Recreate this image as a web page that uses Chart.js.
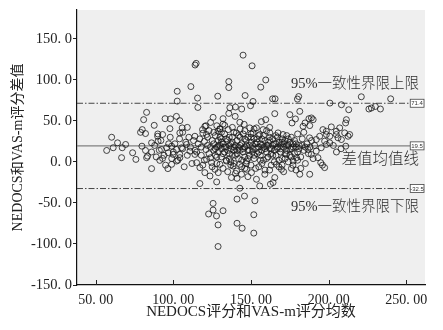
<!DOCTYPE html>
<html><head><meta charset="utf-8">
<script src="https://cdn.jsdelivr.net/npm/chart.js@4"></script>
<style>html,body{margin:0;padding:0;background:#fff}</style>
</head><body>
<canvas id="c" width="443" height="330"></canvas>
<script>
// ---- data ----
const xTickValues = [50, 100, 150, 200, 250];
const yTickValues = [-150, -100, -50, 0, 50, 100, 150];
const meanDiff = 19.5;
const upperLoA = 71.4;
const lowerLoA = -32.5;
const refLabels = ['71.4', '19.5', '-32.5'];
const refTexts = ['95%一致性界限上限', '差值均值线', '95%一致性界限下限'];
const xAxisTitle = 'NEDOCS评分和VAS-m评分均数';
const yAxisTitle = 'NEDOCS和VAS-m评分差值';
// [mean of NEDOCS & VAS-m, difference]
const scatterPairs = [
[144.9,130],[150.7,117],[114.7,120],[114,118],[135.7,97.8],[135.7,90.5],[111.3,91.7],[102.5,86],[102.5,74],[115.6,77.7],[115.8,66.3],[128.6,80],[146.2,80.8],[140,66.8],[144,64.4],[149.7,68.4],[151.3,73.6],[136.4,66],
[82.8,60.3],[80.9,51.4],[87.7,44.5],[94.7,52.6],[98.2,52.3],[102,55.4],[104.2,50.2],[125.6,54.2],[132,52.6],[135.7,59],[133.1,44.5],[139.8,55.4],[142.8,48.2],[145.6,45.7],[149.2,41.4],[80,39.3],[78.9,36],[82.1,34.5],[97.8,40.5],[105.7,41.4],[104.2,35.3],[120.3,43.3],[118.8,39.3],[89.9,31.2],[93.1,33.3],[129.9,40.2],[128.8,37.3],[131,36],[135.3,39.3],[140.6,35.3],[121.4,33.3],[113.9,31.2],
[159.5,99.8],[156.3,91],[163.9,76.8],[165.5,76.8],[180.7,79.6],[179.9,76.5],[200.8,71.6],[208.2,69.6],[212.9,63.5],[221,79.3],[239.9,76.8],[225.9,64.4],[227.5,65.6],[230,67.5],[233.3,64.4],[181.4,61.5],[165.3,58.7],[175,57.5],[178.6,52.3],[176.4,47.4],[187.3,52.6],[188.9,53.5],[190,51.4],[184.8,47.4],[183.5,43.3],[187.8,44.2],[211.4,51.4],[210.9,47.4],[159.5,51.4],[156.7,49],[207.1,41.4],[201.7,42.6],[196.3,39.3],[198.5,37.3],[204.9,37.3],[210.3,35.3],[213.5,33.3],[153.5,41.4],[157.8,39.3],[151.3,35.3],[155.6,33.3],[162.1,35.3],[167.4,35.3],[170.6,33.3],
[57.1,13.9],[61.3,17.2],[64.1,23.2],[67.1,17.2],[69.3,21.2],[66.7,5.1],[60.3,30],[73.8,11.1],[75.9,3],[79.8,19.1],[82.1,13.9],[82.8,5.1],[83.4,7],[86,-8.2],[86,23.2],[90.2,25.2],[91.3,1.8],[93.1,4.2],[96.5,-8.2],[98.9,-3],[102.1,1],[104.2,5.1],[104.2,9.1],[99.9,9.1],[96.7,11.1],[92.4,15.1],[95.7,17.2],[98.9,19.1],[102.1,15.1],[105.3,17.2],[108.5,21.2],[110.7,13.1],[113.9,9.1],[115,-1],[117.1,-26.4],[120.3,-13.1],[123.6,-17.2],[126.8,-9.1],[128.9,-13.1],[127.9,-24.4],
[125.6,-50.6],[125.6,-58.7],[122.7,-63.5],[127.8,-65.9],[132,-59.5],[128.8,-76.8],[128.8,-103.1],[141,-45.4],[145.8,-41.7],[141,-74.8],[144.3,-80.8],[151.8,-64.4],[151.8,-86.8],[142.8,-32.1],[152.5,-47.4],
[137.4,-19.1],[140.7,-11.1],[143.9,-15.1],[147.1,-9.1],[150.3,-13.1],[117.1,-7],[121.4,3],[124.6,-1],[130,-3],[134.2,1],[138.5,-5.1],[142.8,-3],[147.1,1],
[211,19.1],[197.4,-7],[194.9,-1],[193.1,5.1],[188.8,9.1],[186.7,15.1],[192,13.1],[195.2,17.2],[198.5,21.2],[200.7,23.2],[197.4,25.2],[192,27.2],[187.7,29.3],[194.2,31.2],[200.7,31.2],[206,29.3],[208.2,27.2],[212.5,31.2],[198.5,33.3],[204.9,33.3],
[181.4,-15.1],[187.8,-15.1],[177.1,1],[179.3,5.1],[172.8,9.1],[166.4,-3],[169.6,-9.1],[165.3,-19.1],[162.5,-27.2],[164.2,-25.2],[158.9,-15.1],[153.5,-21.2],[155.6,-29.3],
[115,12],[116,22],[117,28],[118,8],[118,18],[119,35],[120,25],[120,2],[121,15],[119,-4],
[122,20],[122,30],[123,10],[123,38],[124,5],[124,18],[125,26],[125,-6],[121,44],[124,48],
[126,14],[126,22],[127,32],[127,8],[128,18],[128,-2],[129,26],[129,12],[130,40],[130,20],[126,36],[128,44],
[131,6],[131,16],[131,28],[132,22],[132,-8],[133,12],[133,34],[134,18],[134,2],[135,26],[135,-12],[132,46],
[136,10],[136,20],[136,30],[137,16],[137,-4],[138,24],[138,8],[139,36],[139,14],[140,20],[140,-14],[138,42],[137,0],
[141,10],[141,26],[142,18],[142,4],[143,30],[143,14],[144,22],[144,-6],[145,12],[145,34],[141,-20],[143,40],
[146,18],[146,6],[147,26],[147,-2],[148,14],[148,30],[149,20],[149,8],[150,24],[150,-4],[146,38],[148,-18],[150,34],
[151,12],[151,20],[152,28],[152,4],[153,16],[153,-8],[154,24],[154,10],[155,32],[155,18],[152,40],
[156,8],[156,22],[157,14],[157,28],[158,2],[158,18],[159,26],[159,-10],[160,12],[160,20],[157,-2],[160,38],
[161,6],[161,24],[162,16],[162,30],[163,10],[163,-4],[164,20],[164,28],[165,14],[165,0],[162,42],
[166,22],[166,8],[167,16],[167,30],[168,24],[168,-6],[169,12],[169,20],[170,28],[170,4],
[171,18],[171,-12],[172,26],[172,10],[173,14],[173,32],[174,20],[174,0],[175,24],[175,8],
[176,16],[176,30],[177,-4],[177,22],[178,10],[178,26],[179,18],[180,12],[180,34],[179,-10],
[181,20],[182,6],[183,28],[184,14],[185,-2],[186,22],[187,10],[188,18],[189,26],[190,4],[184,36],[182,-8],
[191,20],[196,-4],[203,20],[205,12],[208,16],
[100,12],[101,22],[103,2],[104,28],[106,16],[107,-6],[108,24],[109,8],[110,30],[111,18],[112,-2],[113,26],[114,14],[106,36],[109,42],
[86,12],[88,20],[89,6],[91,14],[92,26],[94,8],[95,-4],[97,22],[98,30],[99,4],[90,34],
[127,16],[129,20],[131,24],[133,18],[135,14],[137,22],[139,18],[141,14],[143,20],[145,16],[147,20],[149,14],[151,16],[153,22],[155,12],[157,20],[159,16],[161,20],[163,16],[165,22],[167,18],[169,16],[171,22],[173,20],[175,16],[177,18],[179,22],[181,16],[183,20],[185,18],
[128,6],[132,10],[136,4],[140,8],[144,2],[148,4],[152,8],[156,2],[160,4],[164,8],[168,2],[172,4],[176,6],[180,2],
[130,30],[134,28],[138,30],[142,32],[146,28],[150,30],[154,28],[158,32],[162,26],[166,32],[170,24],[174,28],
[139,-2],[146,-8],[155,-6],[162,-10],[170,-4],[176,-8]
];
// ---- chart ----
const X_MIN = 38, X_MAX = 262, Y_MIN = -150, Y_MAX = 185, LINE_END = 252.5;
const serif = "'Liberation Serif','DejaVu Serif','Noto Sans CJK SC',serif";
const fmt = (v, d) => v.toFixed(d).replace('.', '. ');
const hline = (y, color, dash, w) => ({
  type: 'line', data: [{x: X_MIN, y}, {x: LINE_END, y}],
  borderColor: color, borderWidth: w, borderDash: dash, pointRadius: 0, fill: false, order: 2
});

const plugin = {
  id: 'extras',
  beforeDraw(chart) {
    const {ctx, chartArea: a} = chart;
    ctx.save(); ctx.fillStyle = '#efefef';
    ctx.fillRect(a.left, a.top, a.right - a.left, a.bottom - a.top);
    ctx.restore();
  },
  afterDraw(chart) {
    const {ctx, chartArea: a, scales: {x, y}} = chart;
    ctx.save();
    // inner x ticks
    ctx.strokeStyle = '#222'; ctx.lineWidth = 1;
    xTickValues.forEach(v => {
      const px = Math.round(x.getPixelForValue(v)) + 0.5;
      ctx.beginPath(); ctx.moveTo(px, a.bottom); ctx.lineTo(px, a.bottom - 5); ctx.stroke();
    });
    // value boxes
    const bx0 = x.getPixelForValue(LINE_END);
    [upperLoA, meanDiff, lowerLoA].forEach((v, i) => {
      const py = y.getPixelForValue(v);
      ctx.fillStyle = '#fff'; ctx.strokeStyle = '#444'; ctx.lineWidth = 0.8;
      ctx.fillRect(bx0, py - 4, a.right - 1 - bx0, 8);
      ctx.strokeRect(bx0, py - 4, a.right - 1 - bx0, 8);
      ctx.fillStyle = '#333'; ctx.font = "6px 'Liberation Sans',sans-serif";
      ctx.textAlign = 'center'; ctx.textBaseline = 'middle';
      ctx.fillText(refLabels[i], (bx0 + a.right - 1) / 2, py + 0.5);
    });
    // texts
    ctx.fillStyle = '#2e2e2e'; ctx.textAlign = 'right'; ctx.textBaseline = 'middle';
    ctx.font = "300 14.5px " + serif;
    ctx.fillText(refTexts[0], a.right - 6, y.getPixelForValue(upperLoA) - 19);
    ctx.fillText(refTexts[2], a.right - 6, y.getPixelForValue(lowerLoA) + 19);
    ctx.font = "300 15.5px " + serif;
    ctx.fillText(refTexts[1], a.right - 6, y.getPixelForValue(meanDiff) + 14.5);
    ctx.restore();
  }
};

new Chart(document.getElementById('c'), {
  type: 'scatter',
  data: {
    datasets: [
      hline(upperLoA, '#444', [6, 2, 1.5, 2], 1),
      hline(meanDiff, '#808080', [], 1.4),
      hline(lowerLoA, '#444', [6, 2, 1.5, 2], 1),
      {
        type: 'scatter',
        data: scatterPairs.map(p => ({x: p[0], y: p[1]})),
        pointRadius: 3, pointBorderWidth: 1,
        borderColor: 'rgba(25,25,25,0.8)', backgroundColor: 'rgba(0,0,0,0)',
        order: 1
      }
    ]
  },
  options: {
    responsive: false, animation: false,
    layout: {padding: {top: 10, right: 18, left: 0, bottom: 0}},
    plugins: {legend: {display: false}, tooltip: {enabled: false}},
    scales: {
      x: {
        type: 'linear', min: X_MIN, max: X_MAX,
        afterBuildTicks: s => { s.ticks = xTickValues.map(v => ({value: v})); },
        afterFit: s => { s.height = 45; },
        grid: {display: true, drawOnChartArea: false, drawTicks: false, color: 'rgba(0,0,0,0)'},
        border: {display: true, color: '#111', width: 1.2},
        ticks: {padding: 7, color: '#222', font: {family: serif, size: 14}, maxRotation: 0, autoSkip: false,
                callback: v => fmt(v, 2)},
        title: {display: true, text: xAxisTitle, color: '#222', font: {family: serif, size: 15, lineHeight: 1.2},
                padding: {top: 0, bottom: 9}}
      },
      y: {
        type: 'linear', min: Y_MIN, max: Y_MAX,
        afterBuildTicks: s => { s.ticks = yTickValues.map(v => ({value: v})); },
        afterFit: s => { s.width = 77; },
        grid: {display: true, drawOnChartArea: false, drawTicks: true, tickLength: 4, color: '#222'},
        border: {display: true, color: '#111', width: 1.2},
        ticks: {padding: 1, color: '#222', font: {family: serif, size: 14.5}, autoSkip: false,
                callback: v => fmt(v, 1)},
        title: {display: true, text: yAxisTitle, color: '#222', font: {family: serif, size: 14, lineHeight: 1.2},
                padding: {top: 10, bottom: 0}}
      }
    }
  },
  plugins: [plugin]
});
</script>
</body></html>
